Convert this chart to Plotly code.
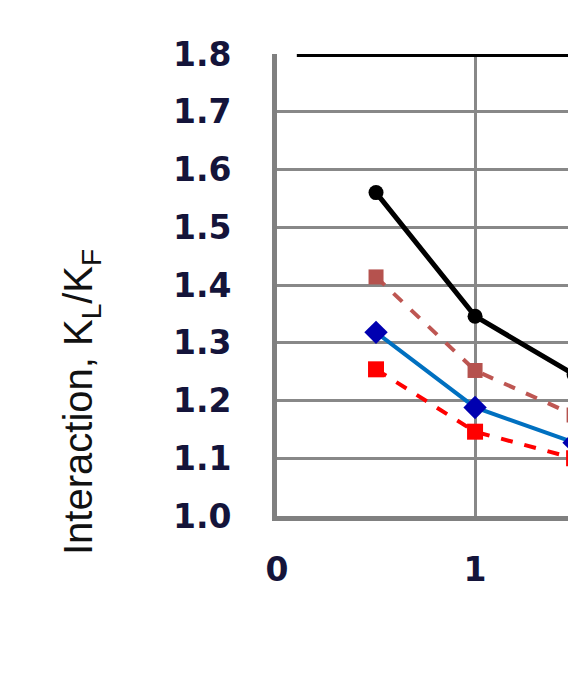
import plotly.graph_objects as go

# spacing values (x) and interaction factor K_L/K_F for each series
x_vals = [0.5, 1.0, 1.5]
black_vals = [1.56, 1.346, 1.245]
brown_vals = [1.414, 1.252, 1.175]
blue_vals = [1.318, 1.188, 1.127]
red_vals = [1.254, 1.146, 1.100]

top_x = [0.1, 1.6]
top_y = [1.8, 1.8]

y_ticks = [1.0, 1.1, 1.2, 1.3, 1.4, 1.5, 1.6, 1.7, 1.8]
y_labels = ["1.0", "1.1", "1.2", "1.3", "1.4", "1.5", "1.6", "1.7", "1.8"]
x_ticks = [0, 1]
x_labels = ["0", "1"]

fig = go.Figure()

fig.add_trace(go.Scatter(x=top_x, y=top_y, mode="lines",
                         line=dict(color="black", width=6)))
fig.add_trace(go.Scatter(x=x_vals, y=brown_vals, mode="lines+markers",
                         line=dict(color="#BE5652", width=4, dash="dash"),
                         marker=dict(symbol="square", size=15, color="#B5524E")))
fig.add_trace(go.Scatter(x=x_vals, y=red_vals, mode="lines+markers",
                         line=dict(color="#FF0000", width=4, dash="dash"),
                         marker=dict(symbol="square", size=16, color="#FF0000")))
fig.add_trace(go.Scatter(x=x_vals, y=blue_vals, mode="lines+markers",
                         line=dict(color="#0070C0", width=4),
                         marker=dict(symbol="diamond", size=18, color="#0000B0")))
fig.add_trace(go.Scatter(x=x_vals, y=black_vals, mode="lines+markers",
                         line=dict(color="black", width=5),
                         marker=dict(symbol="circle", size=15, color="black")))

fig.add_annotation(
    text="Interaction, K<sub>L</sub>/K<sub>F</sub>",
    xref="paper", yref="paper", x=-0.638, y=0.247,
    xanchor="center", yanchor="middle",
    textangle=-90, showarrow=False,
    font=dict(family="Liberation Sans", size=40, color="#111111"),
)

fig.update_layout(
    width=576, height=640,
    margin=dict(l=269, r=0, t=46, b=132),
    plot_bgcolor="white", paper_bgcolor="white",
    showlegend=False,
)
fig.update_xaxes(
    range=[0, 1.55], tickvals=x_ticks, ticktext=x_labels,
    showgrid=True, gridcolor="#888888", gridwidth=3,
    showline=True, linecolor="#808080", linewidth=5,
    zeroline=False, ticks="", ticklabelstandoff=20,
    tickfont=dict(family="DejaVu Sans", size=33, color="#14143a", weight="bold"),
)
fig.update_yaxes(
    range=[1.0, 1.8], tickvals=y_ticks, ticktext=y_labels,
    showgrid=True, gridcolor="#888888", gridwidth=3,
    showline=True, linecolor="#808080", linewidth=5,
    zeroline=False, ticks="", ticklabelstandoff=34,
    tickfont=dict(family="DejaVu Sans", size=33, color="#14143a", weight="bold"),
)

fig.write_html("out.html")
